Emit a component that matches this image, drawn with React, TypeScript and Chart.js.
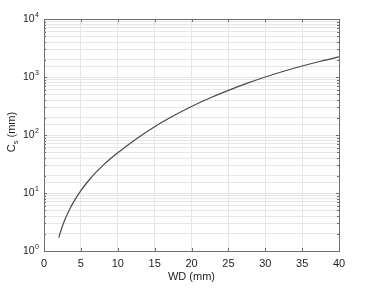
import React, { useEffect, useRef } from "react";
import { Chart, registerables } from "chart.js";

Chart.register(...registerables);

const wd: number[] = [2, 2.5, 3, 3.5, 4, 5, 6, 7, 8, 9, 10, 12.5, 15, 17.5, 20, 22.5, 25, 27.5, 30, 32.5, 35, 37.5, 40];
const cs: number[] = [1.7, 2.69, 3.89, 5.31, 6.96, 11.0, 16.1, 22.4, 30.0, 38.9, 49.3, 85.5, 139, 212, 310, 434, 588, 776, 999, 1258, 1547, 1871, 2223];
const xTicks: number[] = [0, 5, 10, 15, 20, 25, 30, 35, 40];
const yMajorTicks: number[] = [1, 10, 100, 1000, 10000];
const yExponents: string[] = ["0", "1", "2", "3", "4"];
const xTitle = "WD (mm)";
const yTitleMain = "C";
const yTitleSub = "s";
const yTitleRest = " (mm)";

const FONT = "'Liberation Sans', Arial, sans-serif";

const framePlugin = {
  id: "frame",
  afterDraw(chart: any) {
    const { ctx, chartArea: a, scales } = chart;
    const xs = scales.x;
    const ys = scales.y;
    ctx.save();
    ctx.strokeStyle = "#6e6e6e";
    ctx.lineWidth = 1;
    ctx.strokeRect(Math.round(a.left) + 0.5, Math.round(a.top) + 0.5, Math.round(a.right - a.left), Math.round(a.bottom - a.top));
    ctx.beginPath();
    for (const v of xTicks) {
      const px = Math.round(xs.getPixelForValue(v)) + 0.5;
      ctx.moveTo(px, a.bottom);
      ctx.lineTo(px, a.bottom - 3);
      ctx.moveTo(px, a.top);
      ctx.lineTo(px, a.top + 3);
    }
    for (let d = 0; d < yMajorTicks.length; d++) {
      const base = yMajorTicks[d];
      const maxM = d === yMajorTicks.length - 1 ? 1 : 9;
      for (let m = 1; m <= maxM; m++) {
        const v = base * m;
        const py = Math.round(ys.getPixelForValue(v)) + 0.5;
        const len = m === 1 ? 3 : 2;
        ctx.moveTo(a.left, py);
        ctx.lineTo(a.left + len, py);
        ctx.moveTo(a.right, py);
        ctx.lineTo(a.right - len, py);
      }
    }
    ctx.stroke();

    ctx.fillStyle = "#1e1e1e";
    ctx.textBaseline = "middle";
    for (let i = 0; i < yMajorTicks.length; i++) {
      const py = ys.getPixelForValue(yMajorTicks[i]);
      ctx.font = `7px ${FONT}`;
      const ew = ctx.measureText(yExponents[i]).width;
      const rightEdge = a.left - 5;
      ctx.textAlign = "right";
      ctx.fillText(yExponents[i], rightEdge, py - 4);
      ctx.font = `10.5px ${FONT}`;
      ctx.fillText("10", rightEdge - ew - 0.5, py + 0.5);
    }

    ctx.save();
    const cx = 11;
    const cy = (a.top + a.bottom) / 2 - 3;
    ctx.translate(cx, cy);
    ctx.rotate(-Math.PI / 2);
    ctx.textAlign = "left";
    ctx.textBaseline = "alphabetic";
    ctx.font = `11px ${FONT}`;
    const wMain = ctx.measureText(yTitleMain).width;
    const wRest = ctx.measureText(yTitleRest).width;
    ctx.font = `7.5px ${FONT}`;
    const wSub = ctx.measureText(yTitleSub).width;
    const total = wMain + wSub + wRest;
    let x0 = -total / 2;
    ctx.font = `11px ${FONT}`;
    ctx.fillText(yTitleMain, x0, 4);
    x0 += wMain;
    ctx.font = `7.5px ${FONT}`;
    ctx.fillText(yTitleSub, x0, 6.5);
    x0 += wSub;
    ctx.font = `11px ${FONT}`;
    ctx.fillText(yTitleRest, x0, 4);
    ctx.restore();

    ctx.restore();
  },
};

export default function App() {
  const ref = useRef<HTMLCanvasElement | null>(null);
  useEffect(() => {
    if (!ref.current) return;
    const chart = new Chart(ref.current, {
      type: "line",
      data: {
        datasets: [
          {
            data: wd.map((x, i) => ({ x, y: cs[i] })),
            borderColor: "#4a4a4a",
            borderWidth: 1.2,
            pointRadius: 0,
            fill: false,
            cubicInterpolationMode: "monotone",
          },
        ],
      },
      options: {
        animation: false,
        responsive: false,
        maintainAspectRatio: false,
        layout: { padding: { left: 0, top: 19, right: 30, bottom: 0 } },
        plugins: { legend: { display: false }, tooltip: { enabled: false } },
        scales: {
          x: {
            type: "linear",
            min: 0,
            max: 40,
            afterBuildTicks: (scale: any) => {
              scale.ticks = xTicks.map((v) => ({ value: v }));
            },
            afterFit: (scale: any) => {
              scale.height = 40;
            },
            grid: { color: "#e6e6e6", lineWidth: 1, drawTicks: false },
            border: { display: false },
            ticks: {
              color: "#1e1e1e",
              font: { family: FONT, size: 11 },
              padding: 6,
              maxRotation: 0,
              autoSkip: false,
            },
            title: {
              display: true,
              text: xTitle,
              color: "#1e1e1e",
              font: { family: FONT, size: 11 },
              padding: { top: 0, bottom: 7 },
            },
          },
          y: {
            type: "logarithmic",
            min: 1,
            max: 10000,
            afterFit: (scale: any) => {
              scale.width = 44;
            },
            grid: { color: "#e6e6e6", lineWidth: 1, drawTicks: false },
            border: { display: false },
            ticks: { display: false, autoSkip: false },
          },
        },
      },
      plugins: [framePlugin],
    });
    return () => chart.destroy();
  }, []);
  return (
    <div style={{ position: "fixed", left: 0, top: 0, width: 369, height: 291, background: "#fff" }}>
      <canvas ref={ref} width={369} height={291} style={{ display: "block" }} />
    </div>
  );
}
